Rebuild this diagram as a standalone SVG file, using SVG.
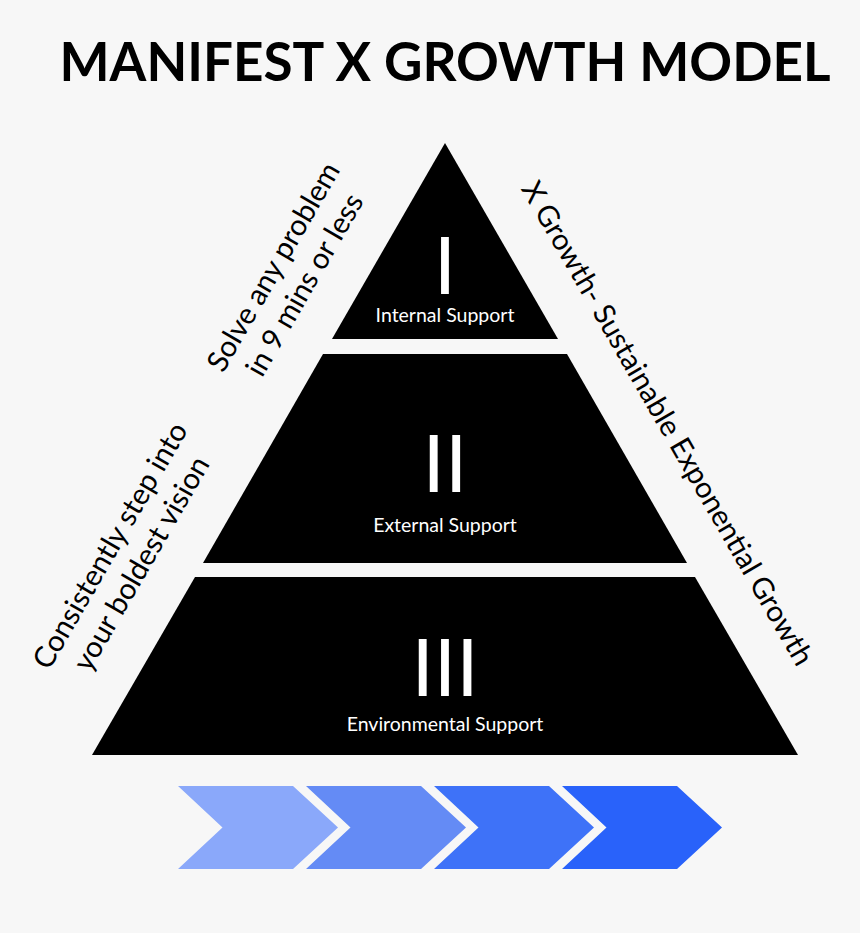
<svg xmlns="http://www.w3.org/2000/svg" width="860" height="933" viewBox="0 0 860 933">
<style>
  .bg { fill: #f7f7f7; }
  .tier { fill: #000000; }
  .title { font-family: Lato, "Liberation Sans", sans-serif; font-weight: bold; font-size: 53px; fill: #000; text-anchor: middle; }
  .num { font-family: Lato, "Liberation Sans", sans-serif; font-size: 80px; fill: #fff; text-anchor: middle; }
  .lbl { font-family: Lato, "Liberation Sans", sans-serif; font-size: 19.5px; fill: #fff; text-anchor: middle; }
  .side { font-family: Lato, "Liberation Sans", sans-serif; font-size: 29.3px; fill: #000; text-anchor: middle; }
</style>
<rect class="bg" x="0" y="0" width="860" height="933"/>
<text class="title" x="445" y="80.5">MANIFEST X GROWTH MODEL</text>

<g id="tier1">
  <polygon class="tier" points="445,143 558,339 332,339"/>
  <text class="num" x="445" y="294">I</text>
  <text class="lbl" x="445" y="322">Internal Support</text>
</g>
<g id="tier2">
  <polygon class="tier" points="323,354 567,354 687,563 203,563"/>
  <text class="num" x="445" y="492">II</text>
  <text class="lbl" x="445" y="532">External Support</text>
</g>
<g id="tier3">
  <polygon class="tier" points="195,577 695,577 798,755 92,755"/>
  <text class="num" x="445" y="696">III</text>
  <text class="lbl" x="445" y="731">Environmental Support</text>
</g>

<g id="side-solve" transform="translate(288.5,275.5) rotate(-60)">
  <text class="side" x="0" y="-7.5">Solve any problem</text>
  <text class="side" x="0" y="28.5">in 9 mins or less</text>
</g>
<g id="side-consistently" transform="translate(125.25,554.25) rotate(-60)">
  <text class="side" x="0" y="-7.5">Consistently step into</text>
  <text class="side" x="0" y="28.5">your boldest vision</text>
</g>
<g id="side-growth" transform="translate(668,423) rotate(60)">
  <text class="side" x="0" y="10.5">X Growth- Sustainable Exponential Growth</text>
</g>

<g id="chevrons">
  <polygon id="chev1" fill="#8aa8fa" points="178,786 293,786 338,827.5 293,869 178,869 222.5,827.5"/>
  <polygon id="chev2" fill="#648bf5" points="306,786 421,786 466,827.5 421,869 306,869 350.5,827.5"/>
  <polygon id="chev3" fill="#3e72f8" points="434,786 549,786 594,827.5 549,869 434,869 478.5,827.5"/>
  <polygon id="chev4" fill="#2962fa" points="562,786 677,786 722,827.5 677,869 562,869 606.5,827.5"/>
</g>
</svg>
